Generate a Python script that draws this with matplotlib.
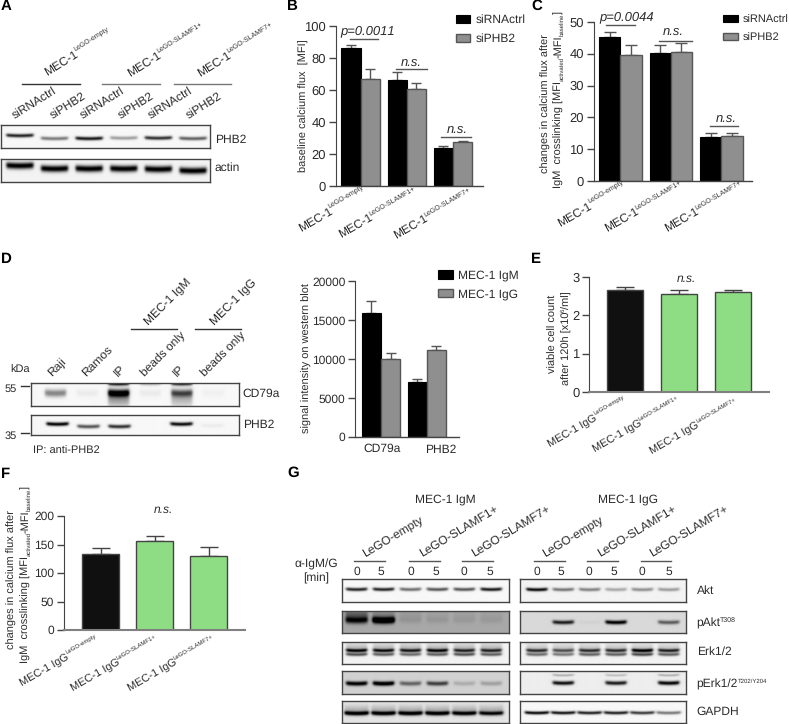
import numpy as np
import matplotlib
matplotlib.use("Agg")
import matplotlib.pyplot as plt

plt.rcParams["font.family"] = ["Liberation Sans", "DejaVu Sans"]
plt.rcParams["text.hinting"] = "no_hinting"
plt.rcParams["text.hinting_factor"] = 1

W, H = 789, 724
INK = "#2b2b2b"
GREY = "#8f8f8f"
GREEN = "#8edc84"
BLACK = "#101010"

# panel B
b_ctrl = [86.5, 66.0, 24.0]
b_ctrl_err = [1.8, 5.0, 1.0]
b_phb2 = [66.8, 60.8, 27.5]
b_phb2_err = [6.2, 3.4, 0.5]

# panel C
c_ctrl = [45.3, 40.3, 13.9]
c_ctrl_err = [1.5, 2.5, 1.3]
c_phb2 = [39.5, 40.6, 14.2]
c_phb2_err = [3.3, 2.6, 0.9]

# panel D
d_igm = [15900, 7100]
d_igm_err = [1550, 300]
d_igg = [10050, 11200]
d_igg_err = [750, 550]
d_labels = ["CD79a", "PHB2"]

# panel E
e_vals = [2.67, 2.57, 2.61]
e_err = [0.08, 0.09, 0.06]

# panel F
f_vals = [134, 156, 129]
f_err = [9, 9, 16]

# band strength per lane
a_phb2 = [0.85, 0.5, 0.9, 0.35, 0.8, 0.6]
a_actin = [1.0, 1.0, 1.0, 1.0, 1.0, 1.0]
d_cd79a = [0.45, 0.05, 1.0, 0.05, 0.6, 0.03]
d_cd79a_top = [0.0, 0.0, 1.0, 0.25, 0.9, 0.0]
d_phb2 = [1.0, 0.65, 0.8, 0.0, 0.95, 0.05]
g_akt_m = [0.85, 0.85, 0.55, 0.65, 0.65, 0.9]
g_akt_g = [0.95, 0.5, 0.45, 0.3, 0.4, 0.35]
g_pakt_m = [0.55, 0.95, 0.05, 0.05, 0.04, 0.04]
g_pakt_g = [0.0, 0.75, 0.03, 0.9, 0.0, 0.5]
g_erk_m = [0.85, 0.8, 0.75, 0.85, 0.7, 0.7]
g_erk_m2 = [0.6, 0.55, 0.5, 0.55, 0.6, 0.55]
g_erk_g = [0.7, 0.55, 0.7, 0.7, 0.95, 0.75]
g_erk_g2 = [0.5, 0.45, 0.55, 0.55, 0.65, 0.55]
g_perk_m = [0.9, 1.0, 0.45, 0.6, 0.15, 0.2]
g_perk_g = [0.0, 0.9, 0.0, 0.85, 0.0, 0.95]
g_perk_g2 = [0.0, 0.25, 0.0, 0.2, 0.0, 0.25]
g_gapdh_m = [0.95, 0.95, 0.95, 0.95, 0.9, 0.8]
g_gapdh_g = [0.95, 0.9, 0.85, 0.85, 0.75, 0.5]

fig = plt.figure(figsize=(W / 100, H / 100), dpi=100, facecolor="white")
renderer = fig.canvas.get_renderer()


def fx(x):
    return x / W


def fy(y):
    return 1 - y / H


def label(x, y, s, size=8.6, ha="left", va="center", rot=0, **kw):
    kw.setdefault("color", INK)
    fig.text(fx(x), fy(y), s, fontsize=size, ha=ha, va=va, rotation=rot,
             rotation_mode="anchor", **kw)


def rich(x, y, parts, rot=0, size=8.6, small=0.55):
    # text with real super/subscripts, runs along the rotated baseline
    a = np.radians(rot)
    px = size * 100 / 72
    for s, kind in parts:
        fs = size if kind == "n" else size * small
        off = {"n": 0, "sup": 0.42 * px, "sub": -0.2 * px}[kind]
        tx = x - off * np.sin(a)
        ty = y - off * np.cos(a)
        t = fig.text(fx(tx), fy(ty), s, fontsize=fs, rotation=0, ha="left",
                     va="baseline", rotation_mode="anchor", color=INK)
        w = t.get_window_extent(renderer).width - 0.5
        t.set_rotation(rot)
        x += w * np.cos(a)
        y -= w * np.sin(a)


def hline(x0, x1, y, color="#555555", lw=1.0):
    fig.add_artist(plt.Line2D([fx(x0), fx(x1)], [fy(y), fy(y)], color=color, lw=lw))


def axes_px(x0, x1, top, bottom):
    return fig.add_axes([fx(x0), fy(bottom), (x1 - x0) / W, (bottom - top) / H])


def bar_axes(box, ymax, ticks, first, step, size, axis_col="#444444", axis_lw=1.0):
    x0, x1, top, bottom = box
    ax = axes_px(x0, x1, top, bottom)
    ax.set_xlim((x0 - first) / step, (x1 - first) / step)
    ax.set_ylim(0, ymax)
    ax.set_yticks(ticks)
    ax.set_xticks([])
    ax.tick_params(axis="y", labelsize=size, length=5, width=1, color="#444444",
                   labelcolor=INK, pad=2)
    ax.patch.set_alpha(0)
    for s in ["top", "right"]:
        ax.spines[s].set_visible(False)
    ax.spines["left"].set_color("#444444")
    ax.spines["bottom"].set_color(axis_col)
    ax.spines["bottom"].set_linewidth(axis_lw)
    return ax


def paired(ax, n, first_vals, first_err, second_vals, second_err, width, cap, names):
    pos = np.arange(n)
    ax.bar(pos - width / 2, first_vals, width, color="black", edgecolor="black",
           lw=0.8, label=names[0], zorder=2)
    ax.bar(pos + width / 2, second_vals, width, color=GREY, edgecolor="#555555",
           lw=1.0, label=names[1], zorder=2)
    ax.errorbar(pos - width / 2, first_vals, yerr=[np.zeros(n), first_err], fmt="none",
                ecolor="#555555", elinewidth=1, capsize=cap, capthick=1, zorder=1)
    ax.errorbar(pos + width / 2, second_vals, yerr=[np.zeros(n), second_err], fmt="none",
                ecolor="#555555", elinewidth=1, capsize=cap, capthick=1, zorder=1)


def single(ax, vals, err, width, cap):
    pos = np.arange(len(vals))
    colors = [BLACK, GREEN, GREEN]
    ax.bar(pos, vals, width, color=colors, edgecolor="#444444", lw=1.0, zorder=2)
    ax.errorbar(pos, vals, yerr=[np.zeros(len(vals)), err], fmt="none", ecolor="#444444",
                elinewidth=1, capsize=cap, capthick=1, zorder=1)


def swatch_legend(ax, x, y, spacing, size=8.6):
    hl = 14.4 / (size * 100 / 72)
    ax.legend(loc="upper left", bbox_to_anchor=(fx(x), fy(y)),
              bbox_transform=fig.transFigure, frameon=False, borderpad=0,
              borderaxespad=0, handlelength=hl, handleheight=0.68,
              handletextpad=0.45, labelspacing=spacing, fontsize=size,
              labelcolor=INK)


def blot(box, bg, first, step, half, bands, lift=None, border="#444444"):
    # bands: (y in px, thickness, strengths per lane), lift moves a lane's bands up
    x0, x1, y0, y1 = box
    xs = np.linspace(x0, x1, int((x1 - x0) * 2))
    ys = np.linspace(y0, y1, int((y1 - y0) * 2))
    X, Y = np.meshgrid(xs, ys)
    img = np.full(X.shape, float(bg))
    for by, thick, amps in bands:
        for i, amp in enumerate(amps):
            cx = first + i * step
            up = lift[i] if lift else 0
            across = 0.5 * (np.tanh((X - cx + half) / 1.5) - np.tanh((X - cx - half) / 1.5))
            bow = 0.6 * ((X - cx) / half) ** 2
            img -= amp * across * np.exp(-((Y - by + up + bow) / thick) ** 2)
    ax = axes_px(x0, x1, y0, y1)
    ax.imshow(np.clip(img, 0, 1), cmap="gray", vmin=0, vmax=1, aspect="auto",
              extent=(x0, x1, y1, y0), interpolation="bilinear")
    ax.set_xticks([])
    ax.set_yticks([])
    for s in ax.spines.values():
        s.set_color(border)
        s.set_linewidth(1.0)
    return ax


# panel letters
for s, x, y in [("A", 1, 10), ("B", 287, 10), ("C", 531, 10), ("D", 1, 263),
                ("E", 531, 263), ("F", 1, 478), ("G", 287, 477)]:
    label(x, y, s, size=10.5, va="baseline", fontweight="bold", color="black")

# A
for x, y, sup in [(47, 76, "LeGO-empty"), (130, 77, "LeGO-SLAMF1+"), (200, 77, "LeGO-SLAMF7+")]:
    rich(x, y, [("MEC-1", "n"), (sup, "sup")], rot=32, size=8.8)
hline(22, 80, 84.3, "#333333")
hline(102, 160, 84.3, "#777777")
hline(174, 231, 84.3, "#777777")
for x, s in zip([15, 53, 83, 121, 151, 189], ["siRNActrl", "siPHB2"] * 3):
    label(x, 118.5, s, rot=32, va="baseline")
blot((1.3, 209.7, 125.3, 148.3), 0.97, 20, 34.6, 13.5, [(139, 1.8, a_phb2)],
     lift=[3, 0, 0, 0.5, 0.5, 0])
blot((1.3, 209.7, 159, 182.3), 0.95, 20, 34.6, 13.5, [(170, 3.2, a_actin)],
     lift=[3.5, 0.5, 0.5, 0.5, 0, -1.5])
label(214.7, 140, "PHB2")
label(214.7, 167.3, "actin")

# B
ax = bar_axes((335.7, 483, 26, 186), 100, [0, 20, 40, 60, 80, 100], 360.7, 46.1, 9)
paired(ax, 3, b_ctrl, b_ctrl_err, b_phb2, b_phb2_err, 0.417, 3.6, ["siRNActrl", "siPHB2"])
swatch_legend(ax, 456, 14.5, 0.62)
label(304.3, 106, "baseline calcium flux  [MFI]", size=7.9, ha="center", rot=90)
label(368, 31.3, "p=0.0011", size=9, ha="center", style="italic")
hline(350, 378.3, 38.7)
label(411.7, 63.3, "n.s.", size=9, ha="center", style="italic")
hline(396, 426.7, 69)
label(457.7, 130.7, "n.s.", size=9, ha="center", style="italic")
hline(441, 471, 137)
for x, y, sup in [(300.7, 231.7, "LeGO-empty"), (341, 238.3, "LeGO-SLAMF1+"), (396, 239.3, "LeGO-SLAMF7+")]:
    rich(x, y, [("MEC-1", "n"), (sup, "sup")], rot=30, size=8.5, small=0.56)

# C
ax = bar_axes((593.7, 751.7, 21.7, 181.3), 50, [0, 10, 20, 30, 40, 50], 620.3, 50.5, 9)
paired(ax, 3, c_ctrl, c_ctrl_err, c_phb2, c_phb2_err, 0.42, 4.2, ["siRNActrl", "siPHB2"])
swatch_legend(ax, 723.3, 14.5, 0.7, size=8)
label(548.5, 104, "changes in calcium flux after", size=7.8, rot=90, va="baseline",
      ha="center")
rich(561.5, 187.7, [("IgM  crosslinking [MFI", "n"), ("activated", "sub"), ("-MFI", "n"),
                    ("baseline", "sub"), ("]", "n")], rot=90, size=8, small=0.55)
label(626.7, 17.3, "p=0.0044", size=9, ha="center", style="italic")
hline(606, 635, 25.3)
label(673.3, 32.3, "n.s.", size=9, ha="center", style="italic")
hline(659.3, 691.7, 41)
label(726.7, 119.3, "n.s.", size=9, ha="center", style="italic")
hline(710, 737.7, 126)
for x, y, sup in [(560, 226.7, "LeGO-empty"), (607.3, 232.3, "LeGO-SLAMF1+"), (666.7, 232.3, "LeGO-SLAMF7+")]:
    rich(x, y, [("MEC-1", "n"), (sup, "sup")], rot=30, size=8.5, small=0.56)

# D blots
label(20, 370, "kDa", size=8, ha="center")
label(11, 389.3, "55", size=8, ha="center")
hline(20.7, 29.3, 386, "#333333")
label(11, 436, "35", size=8, ha="center")
hline(20.7, 29.3, 433.3, "#333333")
for x, s in zip([52, 86, 118.3, 145, 176.7, 205.7],
                ["Raji", "Ramos", "IP", "beads only", "IP", "beads only"]):
    label(x, 377, s, size=8.3, rot=45, va="baseline")
hline(130.7, 176.7, 329.3, "#333333")
hline(195, 240.7, 329.3, "#333333")
label(148.3, 325, "MEC-1 IgM", size=8.3, rot=45, va="baseline")
label(214.3, 325, "MEC-1 IgG", size=8.3, rot=45, va="baseline")
blot((30.7, 239.3, 382.7, 405.7), 0.97, 55, 31.6, 10.5,
     [(393, 3.8, d_cd79a), (383, 2.2, d_cd79a_top), (399, 8, [0.0, 0.0, 0.35, 0.0, 0.25, 0.0])])
blot((30.7, 239.3, 415.3, 435.3), 0.97, 57, 31, 11, [(426, 1.9, d_phb2)],
     lift=[1.5, -1, -1, 0, 1.5, 0])
label(242.7, 394, "CD79a", size=8.3)
label(243, 425.3, "PHB2", size=8.3)
label(33.3, 450.7, "IP: anti-PHB2", size=7.6)

# D bars
ax = bar_axes((355, 459, 281.3, 437), 20000, [0, 5000, 10000, 15000, 20000], 381, 45.7, 8.5)
paired(ax, 2, d_igm, d_igm_err, d_igg, d_igg_err, 0.42, 3.6, ["MEC-1 IgM", "MEC-1 IgG"])
swatch_legend(ax, 438.3, 270, 0.62)
label(306.7, 358, "signal intensity on western blot", size=8, ha="center", rot=90)
label(382, 449, d_labels[0], size=8.3, ha="center")
label(441, 450, d_labels[1], size=8.3, ha="center")

# E
ax = bar_axes((589.3, 769, 277.3, 391.7), 3, [0, 1, 2, 3], 625.3, 53.7, 9.5, "#808080", 1.5)
single(ax, e_vals, e_err, 0.67, 6.5)
label(555.5, 334, "viable cell count", size=8, ha="center", rot=90, va="baseline")
rich(569.5, 385, [("after 120h [x10", "n"), ("6", "sup"), ("/ml]", "n")], rot=90, size=8)
label(686.7, 278.3, "n.s.", size=8.5, ha="center", style="italic")
for x, y, sup in [(550, 446.7, "LeGO-empty"), (595, 452.3, "LeGO-SLAMF1+"), (652.3, 454, "LeGO-SLAMF7+")]:
    rich(x, y, [("MEC-1 IgG", "n"), (sup, "sup")], rot=30, size=8.2)

# F
ax = bar_axes((64, 245, 516, 630), 200, [0, 50, 100, 150, 200], 100.5, 54, 8.5, "#808080", 1.5)
single(ax, f_vals, f_err, 0.67, 6.5)
label(15, 580, "changes in calcium flux after", size=7.8, rot=90, va="baseline", ha="center")
rich(28.5, 663, [("IgM  crosslinking [MFI", "n"), ("activated", "sub"), ("-MFI", "n"),
                 ("baseline", "sub"), ("]", "n")], rot=90, size=8, small=0.55)
label(163.3, 509.3, "n.s.", size=8.5, ha="center", style="italic")
for x, y, sup in [(21.7, 685.7, "LeGO-empty"), (72.7, 691, "LeGO-SLAMF1+"), (130, 691, "LeGO-SLAMF7+")]:
    rich(x, y, [("MEC-1 IgG", "n"), (sup, "sup")], rot=30, size=8.2)

# G
label(445, 499, "MEC-1 IgM", size=8.3, ha="center")
label(628, 499, "MEC-1 IgG", size=8.3, ha="center")
names = ["LeGO-empty", "LeGO-SLAMF1+", "LeGO-SLAMF7+"]
for x, s in zip([365, 421.7, 474.3, 545, 600, 652.3], names * 2):
    label(x, 556.7, s, size=8.3, rot=31, va="baseline")
for x0, x1 in [(354.3, 385), (408.7, 439.7), (462.3, 493), (534, 564.7), (587, 618), (640.7, 671.3)]:
    hline(x0, x1, 560.7)
for x, s in zip([356.7, 381.3, 411, 435.7, 464, 490, 536.7, 561.3, 589.3, 614.3, 642.3, 668.7],
                ["0", "5"] * 6):
    label(x, 571.7, s, size=8.3, ha="center")
label(316, 564.3, "\u03b1-IgM/G", size=8.3, ha="center")
label(316, 578, "[min]", size=8.3, ha="center")

left, right = (342.3, 508.7), (520, 685.7)
lm, lg = (356.7, 26.9), (536.7, 26.4)
blot(left + (579.3, 602.3), 0.97, *lm, 10.5, [(589.8, 1.7, g_akt_m)])
blot(right + (579.3, 602.3), 0.95, *lg, 10.5, [(590, 1.7, g_akt_g)])
blot(left + (610.7, 633.3), 0.66, *lm, 11, [(621, 3.2, g_pakt_m), (616, 6, [0.3, 0.15, 0.06, 0.04, 0.04, 0.04])])
blot(right + (610.7, 633.3), 0.85, *lg, 10.5, [(623, 2.0, g_pakt_g)])
blot(left + (642, 663.7), 0.95, *lm, 10.5, [(650.5, 1.7, g_erk_m), (654.5, 1.6, g_erk_m2), (648, 5, [0.2] * 6)])
blot(right + (642, 663.7), 0.95, *lg, 10.5, [(650.5, 1.7, g_erk_g), (654.5, 1.6, g_erk_g2), (648, 5, [0.15] * 6)])
blot(left + (671.3, 694.3), 0.82, *lm, 10.5, [(684, 2.2, g_perk_m)])
blot(right + (671.3, 694.3), 0.93, *lg, 10.5, [(683.5, 2.0, g_perk_g), (675.5, 1.2, g_perk_g2)])
blot(left + (700.7, 723.3), 0.9, *lm, 12, [(714, 2.0, g_gapdh_m), (711, 5, [0.2] * 6)])
blot(right + (700.7, 723.3), 0.97, *lg, 12, [(713.5, 1.6, g_gapdh_g)])

label(696.7, 591, "Akt", size=8.3)
rich(696.7, 627, [("pAkt", "n"), ("T308", "sup")], size=8.3, small=0.6)
label(696.7, 651.7, "Erk1/2", size=8.3)
rich(696.7, 688, [("pErk1/2", "n"), ("T202/Y204", "sup")], size=8.3)
label(696.7, 711.3, "GAPDH", size=8.3)

fig.savefig("out.png", dpi=100)
